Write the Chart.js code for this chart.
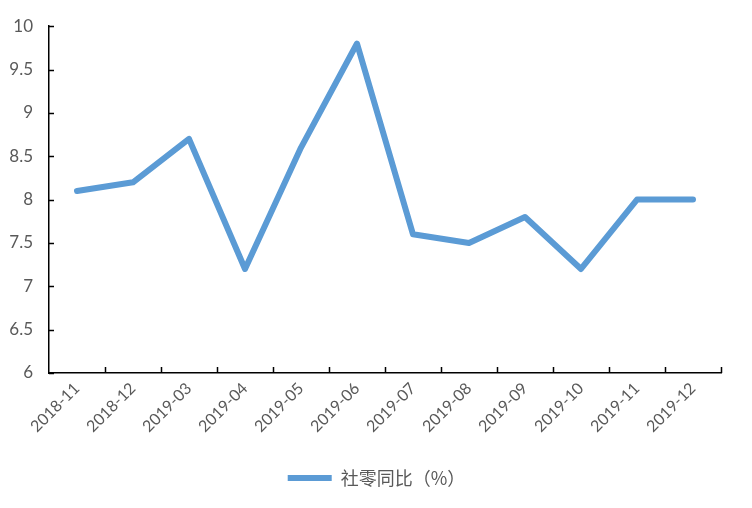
<!DOCTYPE html>
<html>
<head>
<meta charset="utf-8">
<script src="https://cdn.jsdelivr.net/npm/chart.js@4"></script>
<style>
  html, body { margin: 0; padding: 0; background: #fff; }
</style>
</head>
<body>
<canvas id="retailChart" width="752" height="508"></canvas>
<script>
const months = ['2018-11', '2018-12', '2019-03', '2019-04', '2019-05', '2019-06',
  '2019-07', '2019-08', '2019-09', '2019-10', '2019-11', '2019-12'];
const retailYoY = [8.1, 8.2, 8.7, 7.2, 8.6, 9.8, 7.6, 7.5, 7.8, 7.2, 8.0, 8.0];
const seriesName = '社零同比（%）';
const yMin = 6;
const yMax = 10;
const yStep = 0.5;

// small inward tick marks like the excel original
const innerTicks = {
  id: 'innerTicks',
  afterLayout(chart) {
    // centre legend a bit more to the right, like the original
    chart.legend.left += 16;
    chart.legend.right += 16;
  },
  afterDraw(chart) {
    const ctx = chart.ctx;
    const area = chart.chartArea;
    const x = chart.scales.x;
    const y = chart.scales.y;
    ctx.save();
    ctx.strokeStyle = '#000';
    ctx.lineWidth = 1.5;
    ctx.beginPath();
    y.ticks.forEach(t => {
      const py = Math.round(y.getPixelForValue(t.value)) + 0.5;
      ctx.moveTo(area.left, py);
      ctx.lineTo(area.left + 5, py);
    });
    for (let i = 1; i <= months.length; i++) {
      const px = Math.round(x.getPixelForValue(i - 0.5)) + 0.5;
      ctx.moveTo(px, area.bottom);
      ctx.lineTo(px, area.bottom - 6);
    }
    ctx.stroke();
    ctx.restore();
  }
};

const ctx = document.getElementById('retailChart').getContext('2d');
const lineChart = new Chart(ctx, {
  type: 'line',
  data: {
    labels: months,
    datasets: [{
      label: seriesName,
      data: retailYoY,
      borderColor: '#5B9BD5',
      backgroundColor: '#5B9BD5',
      borderWidth: 6,
      borderCapStyle: 'round',
      borderJoinStyle: 'round',
      pointRadius: 0,
      tension: 0
    }]
  },
  options: {
    responsive: false,
    animation: false,
    layout: {
      padding: { top: 26, right: 31, bottom: 11, left: 0 }
    },
    plugins: {
      legend: {
        position: 'bottom',
        labels: {
          boxWidth: 44,
          boxHeight: 6,
          useBorderRadius: true,
          borderRadius: 3,
          padding: 10,
          color: '#595959',
          font: { family: '"Noto Sans CJK SC", Lato', size: 18 },
          generateLabels: () => [{
            text: seriesName,
            fillStyle: '#5B9BD5',
            strokeStyle: '#5B9BD5',
            lineWidth: 0,
            fontColor: '#595959'
          }]
        }
      },
      tooltip: { enabled: false }
    },
    scales: {
      x: {
        offset: true,
        grid: { display: false, drawTicks: false },
        border: { display: true, color: '#000', width: 1.5 },
        ticks: {
          color: '#595959',
          font: { family: 'Lato', size: 16 },
          minRotation: 45,
          maxRotation: 45,
          padding: 6
        },
        afterFit(scale) { scale.height = 86; }
      },
      y: {
        min: yMin,
        max: yMax,
        grid: { display: false, drawTicks: false },
        border: { display: true, color: '#000', width: 1.5 },
        ticks: {
          stepSize: yStep,
          color: '#595959',
          font: { family: 'Lato', size: 17 },
          padding: 16,
          callback: value => String(value)
        },
        afterFit(scale) { scale.width = 49; }
      }
    }
  },
  plugins: [innerTicks]
});
</script>
</body>
</html>
